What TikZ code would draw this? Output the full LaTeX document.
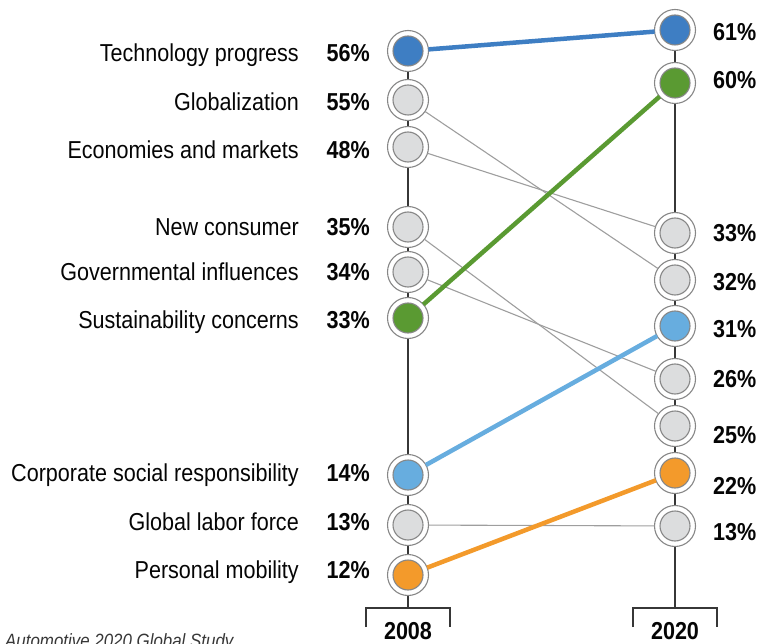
\documentclass[tikz,border=0pt]{standalone}
\usepackage{fontspec}
\setmainfont{Liberation Sans}[FakeStretch=0.88]
\usepackage{tikz}
\usetikzlibrary{positioning,backgrounds}
\definecolor{techblue}{RGB}{62,126,195}
\definecolor{ecogreen}{RGB}{90,154,50}
\definecolor{csrblue}{RGB}{103,173,223}
\definecolor{mobiorange}{RGB}{243,154,43}
\definecolor{dotgray}{RGB}{220,221,222}
\definecolor{ringgray}{RGB}{135,135,135}
\definecolor{linkgray}{RGB}{158,158,158}
\definecolor{axisgray}{RGB}{55,55,55}
\definecolor{inkblack}{RGB}{5,5,5}

\tikzset{
  dot/.style={circle, draw=ringgray, fill=white, line width=1.1pt, minimum size=41pt,
    inner sep=0pt, outer sep=0pt,
    path picture={\filldraw[fill=#1, draw=ringgray, line width=1.1pt]
      (path picture bounding box.center) circle (15pt);}},
  factor/.style={inner sep=0pt, text height=17.6pt, text depth=0pt, text=inkblack,
    font=\fontsize{24.5}{28}\selectfont},
  share/.style={factor, font=\bfseries\fontsize{24.5}{28}\selectfont},
  year/.style={share},
  source/.style={inner sep=0pt, text=axisgray, font=\itshape\fontsize{19.2}{23}\selectfont},
  axis/.style={draw=axisgray, line width=1.5pt},
  graylink/.style={draw=linkgray, line width=1.1pt},
  colorlink/.style={draw=#1, line width=4.5pt}
}

\begin{document}
\begin{tikzpicture}[x=1pt,y=-1pt]
            \useasboundingbox (0,0) rectangle (760,644);

            \node[dot=techblue]    (l_tech)  at (408,51) {};
            \node[dot=dotgray]     (l_glob)  [below=8pt of l_tech] {};
            \node[dot=dotgray]     (l_econ)  [below=6pt of l_glob] {};
            \node[dot=dotgray]     (l_cons)  [below=39pt of l_econ] {};
            \node[dot=dotgray]     (l_gov)   [below=4pt of l_cons] {};
            \node[dot=ecogreen]    (l_sust)  [below=5pt of l_gov] {};
            \node[dot=csrblue]     (l_csr)   [below=116pt of l_sust] {};
            \node[dot=dotgray]     (l_labor) [below=9pt of l_csr] {};
            \node[dot=mobiorange]  (l_mob)   [below=9pt of l_labor] {};

            \node[dot=techblue]    (r_61)    at (675,30) {};
            \node[dot=ecogreen]    (r_60)    [below=12pt of r_61] {};
            \node[dot=dotgray]     (r_33)    [below=109pt of r_60] {};
            \node[dot=dotgray]     (r_32)    [below=6pt of r_33] {};
            \node[dot=csrblue]     (r_31)    [below=5pt of r_32] {};
            \node[dot=dotgray]     (r_26)    [below=12pt of r_31] {};
            \node[dot=dotgray]     (r_25)    [below=6pt of r_26] {};
            \node[dot=mobiorange]  (r_22)    [below=6pt of r_25] {};
            \node[dot=dotgray]     (r_13)    [below=12pt of r_22] {};

            \node[factor] (t_tech)  [left=88.5pt of l_tech, yshift=-2pt] {Technology progress};
            \node[factor] (t_glob)  [left=88.5pt of l_glob, yshift=-2pt] {Globalization};
            \node[factor] (t_econ)  [left=88.5pt of l_econ, yshift=-3pt] {Economies and markets};
            \node[factor] (t_cons)  [left=88.5pt of l_cons] {New consumer};
            \node[factor] (t_gov)   [left=88.5pt of l_gov] {Governmental influences};
            \node[factor] (t_sust)  [left=88.5pt of l_sust, yshift=-2pt] {Sustainability concerns};
            \node[factor] (t_csr)   [left=88.5pt of l_csr, yshift=2pt] {Corporate social responsibility};
            \node[factor] (t_labor) [left=88.5pt of l_labor, yshift=3pt] {Global labor force};
            \node[factor] (t_mob)   [left=88.5pt of l_mob, yshift=5pt] {Personal mobility};

            \node[share] (s_tech)  [left=17.5pt of l_tech, yshift=-2pt] {56\%};
            \node[share] (s_glob)  [left=17.5pt of l_glob, yshift=-2pt] {55\%};
            \node[share] (s_econ)  [left=17.5pt of l_econ, yshift=-3pt] {48\%};
            \node[share] (s_cons)  [left=17.5pt of l_cons] {35\%};
            \node[share] (s_gov)   [left=17.5pt of l_gov] {34\%};
            \node[share] (s_sust)  [left=17.5pt of l_sust, yshift=-2pt] {33\%};
            \node[share] (s_csr)   [left=17.5pt of l_csr, yshift=2pt] {14\%};
            \node[share] (s_labor) [left=17.5pt of l_labor, yshift=3pt] {13\%};
            \node[share] (s_mob)   [left=17.5pt of l_mob, yshift=5pt] {12\%};

            \node[share] (s_61) [right=17.5pt of r_61, yshift=-2pt] {61\%};
            \node[share] (s_60) [right=17.5pt of r_60, yshift=3pt] {60\%};
            \node[share] (s_33) [right=17.5pt of r_33] {33\%};
            \node[share] (s_32) [right=17.5pt of r_32, yshift=-2pt] {32\%};
            \node[share] (s_31) [right=17.5pt of r_31, yshift=-3pt] {31\%};
            \node[share] (s_26) [right=17.5pt of r_26] {26\%};
            \node[share] (s_25) [right=17.5pt of r_25, yshift=-9pt] {25\%};
            \node[share] (s_22) [right=17.5pt of r_22, yshift=-13pt] {22\%};
            \node[share] (s_13) [right=17.5pt of r_13, yshift=-6pt] {13\%};

            \coordinate (axL) at (408,608);
            \coordinate (axR) at (675,608);
            \node[year] (y_2008) [below=14pt of axL] {2008};
            \node[year] (y_2020) [below=14pt of axR] {2020};
            \node[source, anchor=base west] (src) at (5,647) {Automotive 2020 Global Study};

            \begin{scope}[on background layer]
            \draw[axis] (l_tech.center) -- (axL);
            \draw[axis] (r_61.center) -- (axR);
            \draw[axis] ([shift={(-42pt,-19pt)}]axL) |- (axL) -| ([shift={(42pt,-19pt)}]axL);
            \draw[axis] ([shift={(-42pt,-19pt)}]axR) |- (axR) -| ([shift={(42pt,-19pt)}]axR);
            \end{scope}

            \path[graylink]
            (l_glob)  edge (r_32)
            (l_econ)  edge (r_33)
            (l_cons)  edge (r_25)
            (l_gov)   edge (r_26)
            (l_labor) edge (r_13);

            \path
            (l_tech) edge [colorlink=techblue]   (r_61)
            (l_sust) edge [colorlink=ecogreen]   (r_60)
            (l_csr)  edge [colorlink=csrblue]    (r_31)
            (l_mob)  edge [colorlink=mobiorange] (r_22);
    \end{tikzpicture}
\end{document}
